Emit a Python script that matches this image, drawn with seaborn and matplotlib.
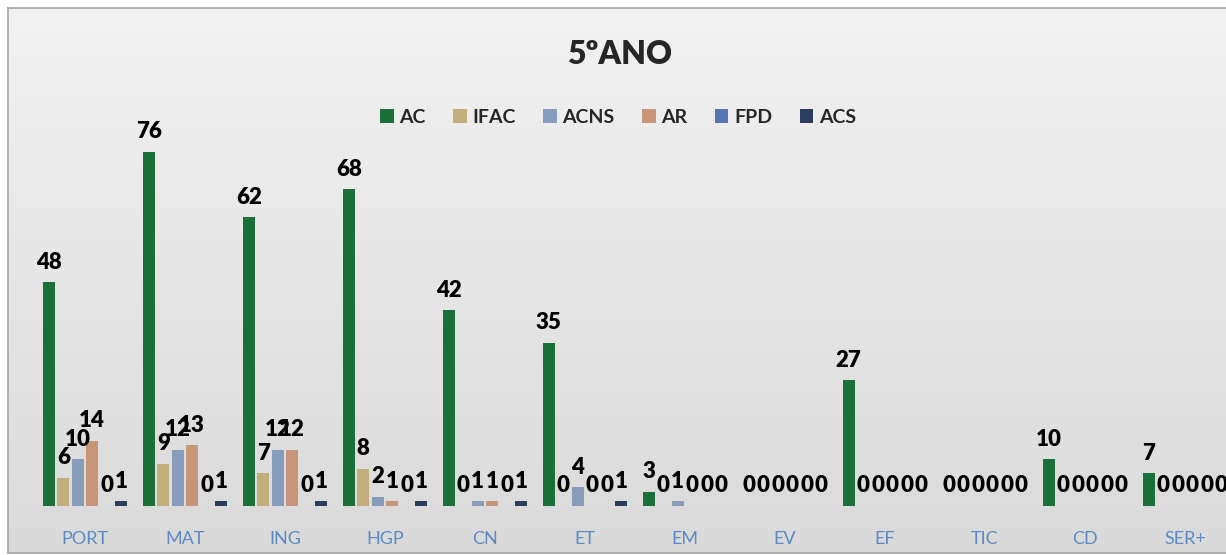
import numpy as np
import pandas as pd
import matplotlib.pyplot as plt
import seaborn as sns

subjects = ["PORT", "MAT", "ING", "HGP", "CN", "ET", "EM", "EV", "EF", "TIC", "CD", "SER+"]
ac   = [48, 76, 62, 68, 42, 35, 3, 0, 27, 0, 10, 7]
ifac = [6, 9, 7, 8, 0, 0, 0, 0, 0, 0, 0, 0]
acns = [10, 12, 12, 2, 1, 4, 1, 0, 0, 0, 0, 0]
ar   = [14, 13, 12, 1, 1, 0, 0, 0, 0, 0, 0, 0]
fpd  = [0, 0, 0, 0, 0, 0, 0, 0, 0, 0, 0, 0]
acs  = [1, 1, 1, 1, 1, 1, 0, 0, 0, 0, 0, 0]

series = {"AC": ac, "IFAC": ifac, "ACNS": acns, "AR": ar, "FPD": fpd, "ACS": acs}
colors = ["#0d7d35", "#cdb36e", "#7f9cc3", "#d4926a", "#4472c4", "#233a66"]

rows = []
for name, vals in series.items():
    for s, v in zip(subjects, vals):
        rows.append({"subject": s, "serie": name, "valor": v})
df = pd.DataFrame(rows)

sns.set_style("white")
plt.rcParams["font.family"] = ["Lato", "DejaVu Sans"]

fig = plt.figure(figsize=(12.26, 5.55), dpi=100)
fig.patch.set_facecolor("white")

# background gradient + border
bg = fig.add_axes([8 / 1226, 2 / 555, 1.0, 545 / 555], zorder=0)
grad = np.linspace(0, 1, 256).reshape(-1, 1)
bg.imshow(grad, aspect="auto", cmap=sns.blend_palette(["#f2f2f2", "#dadada"], as_cmap=True),
          extent=[0, 1, 0, 1])
bg.set_xticks([])
bg.set_yticks([])
for sp in bg.spines.values():
    sp.set_color("#a6a6a6")
    sp.set_linewidth(1.2)

ax = fig.add_axes([35 / 1226, 49 / 555, 1200 / 1226, 372.6 / 555], zorder=1)
ax.patch.set_alpha(0)
sns.barplot(data=df, x="subject", y="valor", hue="serie", palette=colors,
            width=0.87, gap=0.15, ax=ax, legend=True, edgecolor="none")

for cont in ax.containers:
    ax.bar_label(cont, padding=7, fontsize=16, fontweight="heavy", color="black")

ax.set_ylim(0, 80)
ax.set_xlim(-0.5, 11.5)
ax.set_xlabel("")
ax.set_ylabel("")
ax.set_yticks([])
ax.tick_params(axis="x", length=0, pad=18, labelsize=13, labelcolor="#5b8ac6")
for sp in ax.spines.values():
    sp.set_visible(False)

leg = ax.legend(loc="center", bbox_to_anchor=(618 / 1226, 1 - 117 / 555),
                bbox_transform=fig.transFigure, ncol=6, frameon=False,
                prop={"weight": "bold", "size": 14}, handlelength=0.7,
                handleheight=0.7, handletextpad=0.3, columnspacing=1.4)

fig.text(620 / 1226, 1 - 55 / 555, "5ºANO", ha="center", va="center",
         fontsize=23, fontweight="heavy")

fig.savefig("out.png", dpi=100)
